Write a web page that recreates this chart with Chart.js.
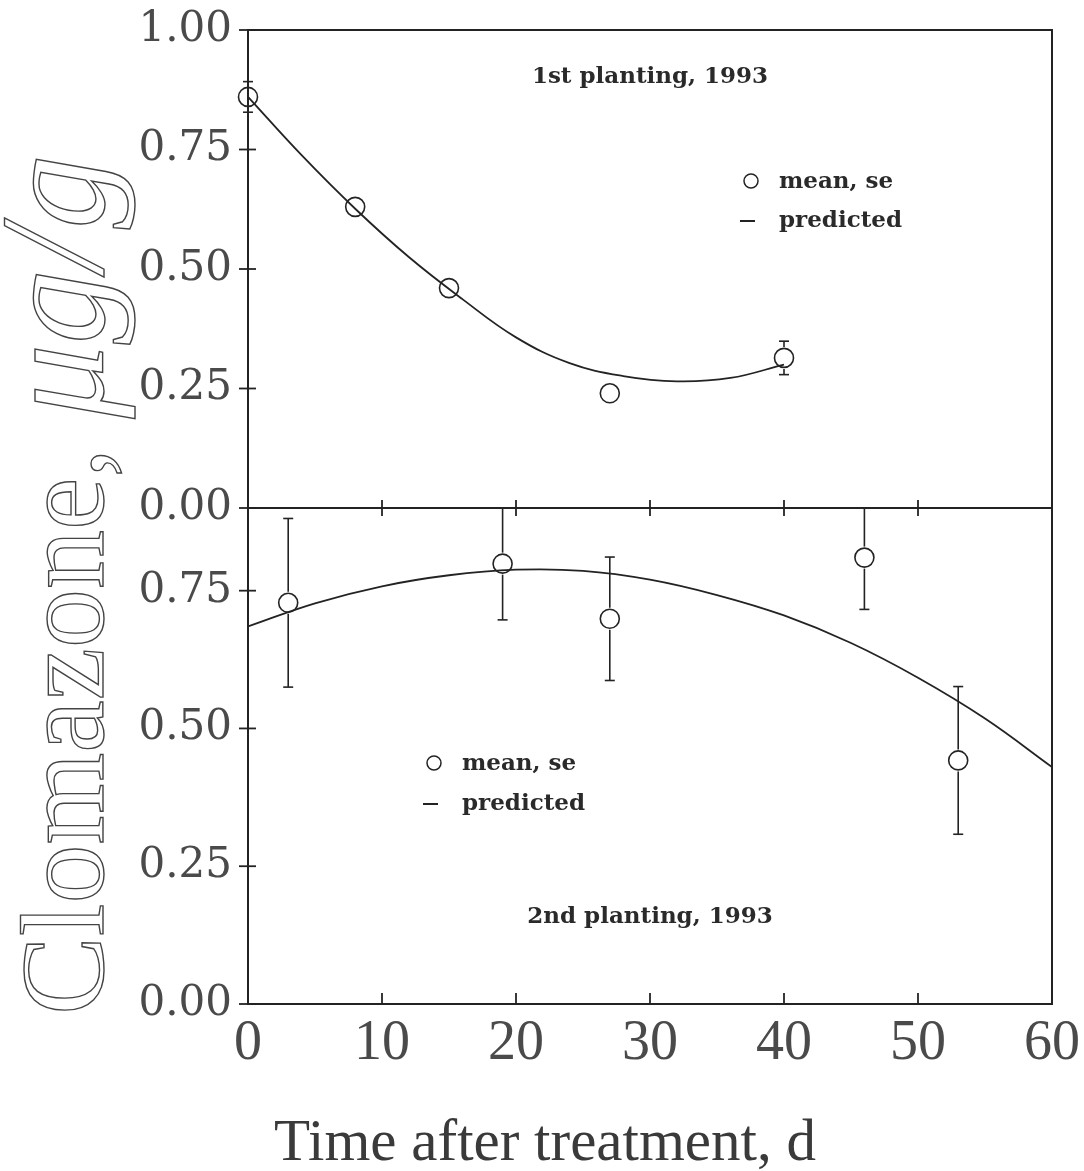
<!DOCTYPE html>
<html>
<head>
<meta charset="utf-8">
<title>Clomazone dissipation, 1993</title>
<script src="https://cdn.jsdelivr.net/npm/chart.js@4.4.1/dist/chart.umd.min.js"></script>
<style>
  html, body { margin: 0; padding: 0; background: #ffffff; }
  #wrap { position: relative; width: 1084px; height: 1171px; }
  canvas { display: block; }
</style>
</head>
<body>
<div id="wrap"><canvas id="chart" width="1084" height="1171"></canvas></div>
<script>
// ---- data -------------------------------------------------------------
// 1st planting: sampled means with standard errors
const days1 = [0, 8, 15, 27, 40];
const mean1 = [0.86, 0.63, 0.46, 0.24, 0.314];
const se1   = [0.032, 0.012, 0.012, 0.012, 0.035];
// 1st planting: fitted (predicted) curve
const predDays1 = [0, 4, 8, 12, 16, 20, 24, 28, 32, 36, 40];
const pred1     = [0.86, 0.738, 0.626, 0.525, 0.437, 0.357, 0.303, 0.276, 0.265, 0.272, 0.300];

// 2nd planting: sampled means with standard errors
const days2 = [3, 19, 27, 46, 53];
const mean2 = [0.728, 0.799, 0.699, 0.810, 0.442];
const se2   = [0.153, 0.102, 0.112, 0.094, 0.134];
// 2nd planting: fitted (predicted) curve
const predDays2 = [0, 5, 10, 15, 20, 25, 30, 35, 40, 45, 50, 55, 60];
const pred2     = [0.685, 0.727, 0.758, 0.778, 0.788, 0.786, 0.770, 0.742, 0.705, 0.655, 0.592, 0.518, 0.430];

// axis ticks
const xTicks       = [0, 10, 20, 30, 40, 50, 60];
const yTicksTop    = [0, 0.25, 0.50, 0.75, 1.00];
const yTicksBottom = [0, 0.25, 0.50, 0.75];

const panelTitles = ['1st planting, 1993', '2nd planting, 1993'];
const legendLabels = ['mean, se', 'predicted'];
const xTitle = 'Time after treatment, d';
const yTitleMain = 'Clomazone, ';
const yTitleUnit = '\u03BCg/g';

// ---- styling ----------------------------------------------------------
const INK = '#232323';
const TEXT = '#2a2a2a';
const TICKTEXT = '#4a4a4a';
const POINT_R = 9.5;

const toXY = (xs, ys) => xs.map((v, i) => ({ x: v, y: ys[i] }));

const curveStyle = {
  type: 'line', showLine: true, borderColor: INK, borderWidth: 1.8,
  pointRadius: 0, tension: 0.4, fill: false, xAxisID: 'x'
};
const pointStyle = {
  type: 'line', showLine: false, pointRadius: POINT_R, pointBorderWidth: 1.6,
  pointBorderColor: INK, pointBackgroundColor: 'rgba(0,0,0,0)', clip: false, xAxisID: 'x'
};

// frames, tick marks, error bars
const panelDecor = {
  id: 'panelDecor',
  afterDatasetsDraw(chart) {
    const { ctx, chartArea } = chart;
    const x = chart.scales.x, yTop = chart.scales.yTop, yBot = chart.scales.yBot;
    const L = chartArea.left, R = chartArea.right;
    ctx.save();
    ctx.strokeStyle = INK;
    ctx.lineCap = 'butt';

    // error bars, broken around each marker
    ctx.lineWidth = 1.6;
    const bars = (ys, days, mean, se) => {
      days.forEach((d, i) => {
        const px = x.getPixelForValue(d);
        const py = ys.getPixelForValue(mean[i]);
        const hi = ys.getPixelForValue(mean[i] + se[i]);
        const lo = ys.getPixelForValue(mean[i] - se[i]);
        const gap = POINT_R + 1.5;
        if (py - hi > gap) {
          const end = Math.max(hi, ys.top);
          ctx.beginPath(); ctx.moveTo(px, py - gap); ctx.lineTo(px, end); ctx.stroke();
          if (hi >= ys.top) { ctx.beginPath(); ctx.moveTo(px - 5, hi); ctx.lineTo(px + 5, hi); ctx.stroke(); }
        }
        if (lo - py > gap) {
          ctx.beginPath(); ctx.moveTo(px, py + gap); ctx.lineTo(px, lo); ctx.stroke();
          ctx.beginPath(); ctx.moveTo(px - 5, lo); ctx.lineTo(px + 5, lo); ctx.stroke();
        }
      });
    };
    bars(yTop, days1, mean1, se1);
    bars(yBot, days2, mean2, se2);

    // panel frames
    ctx.lineWidth = 2;
    [yTop, yBot].forEach(ys => ctx.strokeRect(L, ys.top, R - L, ys.bottom - ys.top));

    // y tick marks crossing the left axis
    ctx.lineWidth = 1.8;
    const yMarks = (ys, vals) => vals.forEach(v => {
      const py = ys.getPixelForValue(v);
      ctx.beginPath(); ctx.moveTo(L - 9, py); ctx.lineTo(L + 8, py); ctx.stroke();
    });
    yMarks(yTop, yTicksTop);
    yMarks(yBot, yTicksBottom);

    // x tick marks: inward at the bottom, crossing at the shared border
    xTicks.forEach(v => {
      const px = x.getPixelForValue(v);
      if (v === xTicks[0] || v === xTicks[xTicks.length - 1]) return;
      ctx.beginPath(); ctx.moveTo(px, yBot.bottom); ctx.lineTo(px, yBot.bottom - 11); ctx.stroke();
      ctx.beginPath(); ctx.moveTo(px, yTop.bottom - 8); ctx.lineTo(px, yTop.bottom + 8); ctx.stroke();
    });
    ctx.restore();
  },
  afterDraw(chart) {
    const { ctx, chartArea } = chart;
    const yTop = chart.scales.yTop, yBot = chart.scales.yBot;
    const cx = (chartArea.left + chartArea.right) / 2;
    ctx.save();
    ctx.fillStyle = TEXT;
    ctx.strokeStyle = INK;
    ctx.textBaseline = 'alphabetic';

    // panel captions
    ctx.font = 'bold 23px "DejaVu Serif"';
    ctx.textAlign = 'center';
    ctx.fillText(panelTitles[0], cx, yTop.top + 53);
    ctx.fillText(panelTitles[1], cx, yBot.top + 415);

    // in-panel legends
    const legend = (cxMark, yMean, yPred, textX) => {
      ctx.lineWidth = 1.5;
      ctx.beginPath(); ctx.arc(cxMark, yMean - 7, 7, 0, Math.PI * 2); ctx.stroke();
      ctx.lineWidth = 2;
      ctx.beginPath(); ctx.moveTo(cxMark - 11, yPred - 6); ctx.lineTo(cxMark + 4, yPred - 6); ctx.stroke();
      ctx.textAlign = 'left';
      ctx.fillText(legendLabels[0], textX, yMean);
      ctx.fillText(legendLabels[1], textX, yPred);
    };
    ctx.font = 'bold 23px "DejaVu Serif"';
    legend(751, 188, 227, 779);
    legend(434, 770, 810, 462);

    // x-axis title
    ctx.font = '59px "Liberation Serif"';
    ctx.fillStyle = '#3a3a3a';
    ctx.textAlign = 'center';
    ctx.fillText(xTitle, 545, 1160);

    // y-axis title, spanning both panels
    ctx.translate(103, 585);
    ctx.rotate(-Math.PI / 2);
    ctx.textAlign = 'left';
    ctx.font = '118px "Liberation Serif"';
    const w1 = ctx.measureText(yTitleMain).width;
    ctx.font = 'italic 148px "Liberation Serif"';
    const w2 = ctx.measureText(yTitleUnit).width;
    const start = -(w1 + w2) / 2;
    ctx.lineWidth = 1.4;
    ctx.strokeStyle = '#444';
    ctx.font = '118px "Liberation Serif"';
    ctx.strokeText(yTitleMain, start, 0);
    ctx.font = 'italic 148px "Liberation Serif"';
    ctx.strokeText(yTitleUnit, start + w1, 0);
    ctx.restore();
  }
};

const yCommon = (ticksList) => ({
  type: 'linear', position: 'left', stack: 'panels',
  afterBuildTicks: s => { s.ticks = ticksList.map(v => ({ value: v })); },
  afterFit: s => { s.width = 248; s.paddingTop = 0; s.paddingBottom = 0; },
  grid: { display: false, drawTicks: false },
  border: { display: false },
  ticks: {
    callback: v => Number(v).toFixed(2),
    font: { family: '"DejaVu Serif"', size: 42 },
    color: TICKTEXT, padding: 16, autoSkip: false
  }
});

// the lower panel is declared first so the stacked layout puts it at the bottom
const scales = {
  x: {
    type: 'linear', position: 'bottom', min: 0, max: 60,
    afterBuildTicks: s => { s.ticks = xTicks.map(v => ({ value: v })); },
    afterFit: s => { s.height = 167; s.paddingLeft = 0; s.paddingRight = 0; },
    grid: { display: false, drawTicks: false },
    border: { display: false },
    ticks: {
      callback: v => String(v),
      font: { family: '"Liberation Serif"', size: 56 },
      color: TICKTEXT, padding: 7, maxRotation: 0, autoSkip: false
    }
  },
  yBot: Object.assign(yCommon(yTicksBottom), { min: 0, max: 0.9, stackWeight: 496 }),
  yTop: Object.assign(yCommon(yTicksTop), { min: 0, max: 1.0, stackWeight: 478 })
};

new Chart(document.getElementById('chart'), {
  type: 'line',
  data: {
    datasets: [
      Object.assign({ label: 'predicted, 1st', data: toXY(predDays1, pred1), yAxisID: 'yTop' }, curveStyle),
      Object.assign({ label: 'mean, 1st', data: toXY(days1, mean1), yAxisID: 'yTop' }, pointStyle),
      Object.assign({ label: 'predicted, 2nd', data: toXY(predDays2, pred2), yAxisID: 'yBot' }, curveStyle),
      Object.assign({ label: 'mean, 2nd', data: toXY(days2, mean2), yAxisID: 'yBot' }, pointStyle)
    ]
  },
  options: {
    responsive: false,
    animation: false,
    events: [],
    layout: { padding: { top: 30, right: 32, bottom: 0, left: 0 } },
    plugins: { legend: { display: false }, tooltip: { enabled: false }, title: { display: false } },
    scales: scales
  },
  plugins: [panelDecor]
});
</script>
</body>
</html>
